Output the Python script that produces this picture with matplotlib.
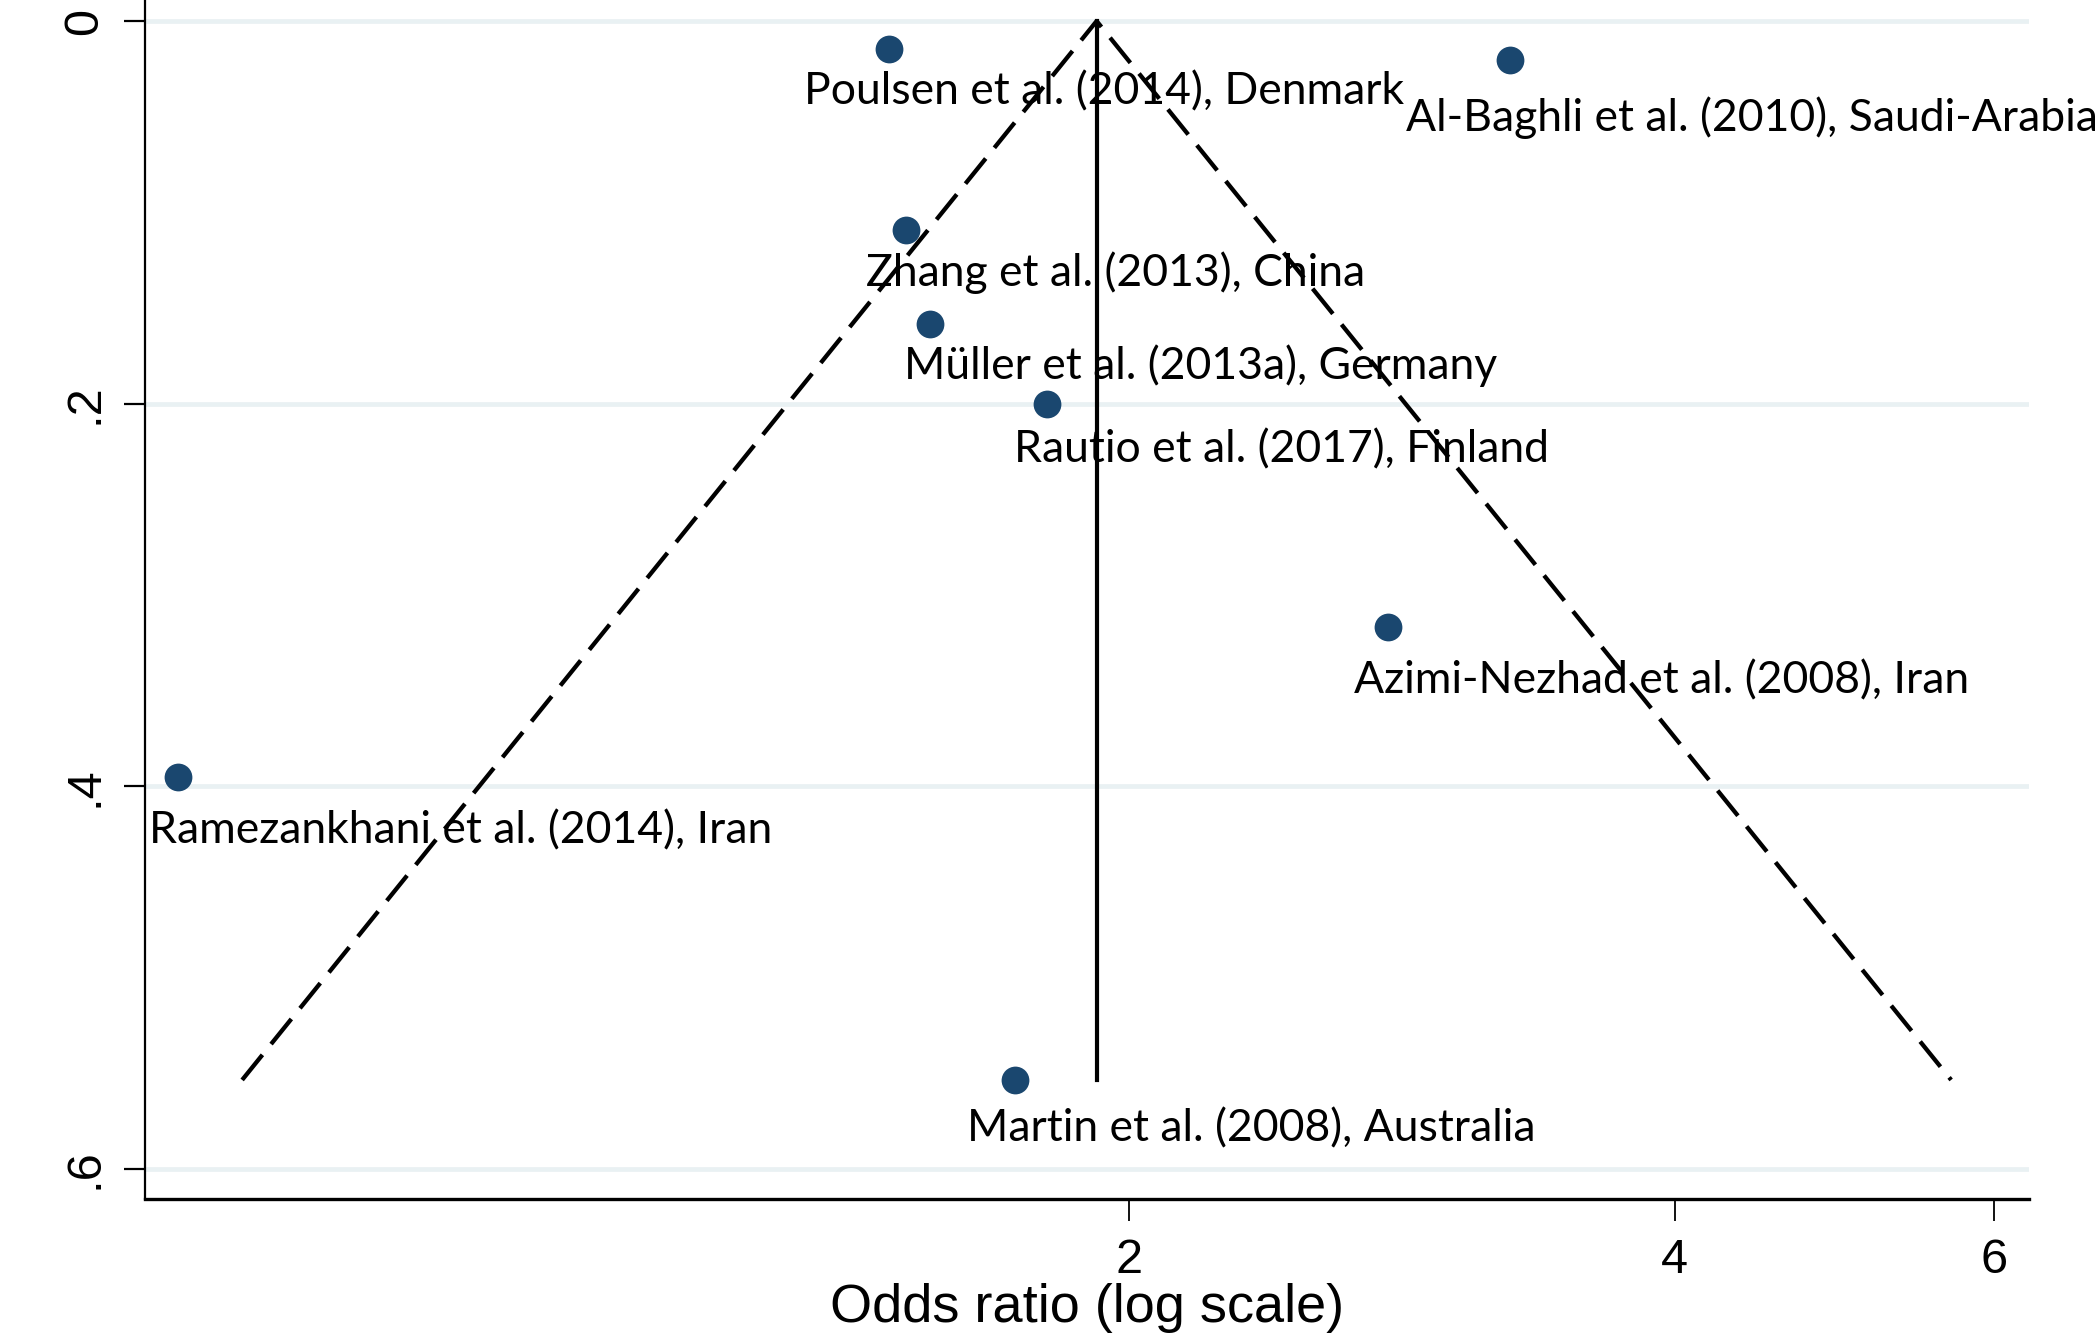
import numpy as np
import matplotlib
matplotlib.use("Agg")
import matplotlib.pyplot as plt
from matplotlib.ticker import FixedLocator, NullLocator

# Study-level estimates for the funnel plot
studies = [
    "Poulsen et al. (2014), Denmark",
    "Al-Baghli et al. (2010), Saudi-Arabia",
    "Zhang et al. (2013), China",
    "Müller et al. (2013a), Germany",
    "Rautio et al. (2017), Finland",
    "Azimi-Nezhad et al. (2008), Iran",
    "Ramezankhani et al. (2014), Iran",
    "Martin et al. (2008), Australia",
]
odds_ratio = [1.475, 3.243, 1.507, 1.554, 1.802, 2.781, 0.598, 1.732]
std_error = [0.0148, 0.0204, 0.1094, 0.1584, 0.2000, 0.3167, 0.3951, 0.5535]

# Pooled odds ratio (vertical reference line)
pooled_or = 1.920

# Axis ticks
x_ticks = [2, 4, 6]
x_tick_labels = ["2", "4", "6"]
y_ticks = [0, 0.2, 0.4, 0.6]
y_tick_labels = ["0", ".2", ".4", ".6"]

# Label placement relative to each marker (pixels: right, down)
label_offsets = [(-85, 42), (-104, 58), (-40, 42), (-26, 42),
                 (-33, 46), (-34, 54), (-29, 54), (-48, 49)]

marker_color = "#1a476f"
grid_color = "#e9f1f3"

fig = plt.figure(figsize=(21, 13.39), dpi=100)
ax = fig.add_axes([0.0690, 0.1046, 0.8971, 0.8954])

ax.set_xscale("log")
ax.set_xlim(0.5735, 6.270)
ax.set_ylim(0.6157, -0.011)

# Horizontal grid lines at the y ticks
for yt in y_ticks:
    ax.axhline(yt, color=grid_color, lw=3.4, zorder=1)

# Pseudo 95% confidence limits
se_max = max(std_error)
ln_p = np.log(pooled_or)
lo_end = np.exp(ln_p - 1.96 * se_max)
hi_end = np.exp(ln_p + 1.96 * se_max)
ax.plot([lo_end, pooled_or, hi_end], [se_max, 0, se_max], color="black",
        lw=3.1, dashes=(7.5, 3.2), zorder=3, solid_joinstyle="miter")
ax.plot([pooled_or, pooled_or], [0, se_max], color="black", lw=3.0, zorder=3)

# Study markers
ax.plot(odds_ratio, std_error, "o", ms=20, color=marker_color,
        markeredgewidth=0, zorder=4)

for name, x, y, (dx, dy) in zip(studies, odds_ratio, std_error, label_offsets):
    ax.annotate(name, (x, y), xytext=(dx, -dy), textcoords="offset pixels",
                ha="left", va="center", fontsize=32, family="Lato",
                color="black", zorder=2)

# Axes styling
for side in ("top", "right"):
    ax.spines[side].set_visible(False)
ax.spines["left"].set_linewidth(1.6)
ax.spines["bottom"].set_linewidth(2.4)

ax.xaxis.set_major_locator(FixedLocator(x_ticks))
ax.xaxis.set_minor_locator(NullLocator())
ax.set_xticklabels(x_tick_labels)
ax.yaxis.set_major_locator(FixedLocator(y_ticks))
ax.set_yticklabels(y_tick_labels, rotation=90, va="center")

ax.tick_params(axis="x", length=16, width=1.3, pad=12, labelsize=35)
ax.tick_params(axis="y", length=15, width=1.6, pad=12, labelsize=35)
for lab in ax.get_xticklabels() + ax.get_yticklabels():
    lab.set_family("Liberation Sans")

ax.set_xlabel("Odds ratio (log scale)", fontsize=39, family="Liberation Sans",
              labelpad=0)

fig.savefig("out.png", dpi=100)
